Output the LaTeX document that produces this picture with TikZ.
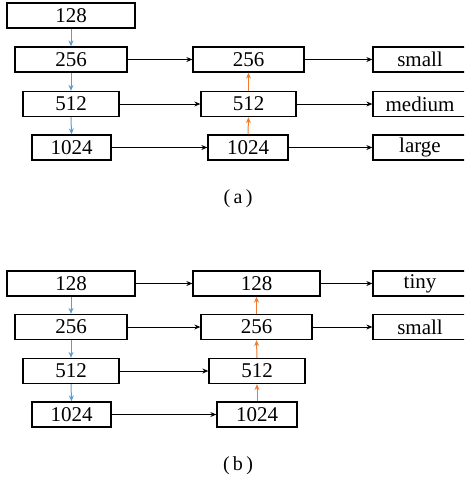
\documentclass[tikz,border=0pt]{standalone}
\usepackage{fontspec}
\setmainfont{Liberation Serif}
\usetikzlibrary{arrows.meta}
\definecolor{cblue}{RGB}{91,155,213}
\definecolor{corange}{RGB}{237,125,49}
\begin{document}
\begin{tikzpicture}[x=1pt,y=-1pt,
  bx/.style={draw,line width=1.3pt,inner sep=0pt,minimum height=25pt,font=\fontsize{21}{21}\selectfont},
  harr/.style={line width=0.9pt,-{Stealth[length=6pt,width=5pt]}},
  barr/.style={cblue,line width=1pt,-{Stealth[length=6pt,width=5pt]}},
  oarr/.style={corange,line width=1pt,-{Stealth[length=6pt,width=5pt]}},
  lbl/.style={font=\fontsize{20}{20}\selectfont}]
\useasboundingbox (0,0) rectangle (464,482);
\clip (0,0) rectangle (464,482);
% (a)
\node[bx,minimum width=128pt] (a128) at (71,15.5) {128};
\node[bx,minimum width=112pt] (a256) at (71,59.5) {256};
\node[bx,minimum width=96pt] (a512) at (71,104) {512};
\node[bx,minimum width=79pt] (a1024) at (71.5,147.5) {1024};
\node[bx,minimum width=111pt] (m256) at (248.5,59.5) {256};
\node[bx,minimum width=95pt] (m512) at (248.5,104) {512};
\node[bx,minimum width=80pt] (m1024) at (248,147.5) {1024};
\node[bx,minimum width=94pt] (rs) at (420,59.5) {small};
\node[bx,minimum width=94pt] (rm) at (420,104) {medium};
\node[bx,minimum width=94pt] (rl) at (420,147.5) {large};
\draw[barr] (a128.south) -- (a256.north);
\draw[barr] (a256.south) -- (a512.north);
\draw[barr] (a512.south) -- (a1024.north);
\draw[oarr] (m1024.north) -- (m512.south);
\draw[oarr] (m512.north) -- (m256.south);
\draw[harr] (a256.east) -- (m256.west);
\draw[harr] (a512.east) -- (m512.west);
\draw[harr] (a1024.east) -- (m1024.west);
\draw[harr] (m256.east) -- (rs.west);
\draw[harr] (m512.east) -- (rm.west);
\draw[harr] (m1024.east) -- (rl.west);
\node[lbl] (la) at (238,199) {(\,a\,)};
% (b)
\node[bx,minimum width=128pt] (b128) at (71,283.5) {128};
\node[bx,minimum width=112pt] (b256) at (71,327) {256};
\node[bx,minimum width=96pt] (b512) at (71,371) {512};
\node[bx,minimum width=79pt] (b1024) at (71.5,414.5) {1024};
\node[bx,minimum width=127pt] (n128) at (256.5,283.5) {128};
\node[bx,minimum width=111pt] (n256) at (256.5,327) {256};
\node[bx,minimum width=96pt] (n512) at (257,371) {512};
\node[bx,minimum width=80pt] (n1024) at (257,414.5) {1024};
\node[bx,minimum width=94pt] (rt) at (420,283.5) {tiny};
\node[bx,minimum width=94pt] (rs2) at (420,327) {small};
\draw[barr] (b128.south) -- (b256.north);
\draw[barr] (b256.south) -- (b512.north);
\draw[barr] (b512.south) -- (b1024.north);
\draw[oarr] (n1024.north) -- (n512.south);
\draw[oarr] (n512.north) -- (n256.south);
\draw[oarr] (n256.north) -- (n128.south);
\draw[harr] (b128.east) -- (n128.west);
\draw[harr] (b256.east) -- (n256.west);
\draw[harr] (b512.east) -- (n512.west);
\draw[harr] (b1024.east) -- (n1024.west);
\draw[harr] (n128.east) -- (rt.west);
\draw[harr] (n256.east) -- (rs2.west);
\node[lbl] (lb) at (238,466) {(\,b\,)};
\end{tikzpicture}
\end{document}
